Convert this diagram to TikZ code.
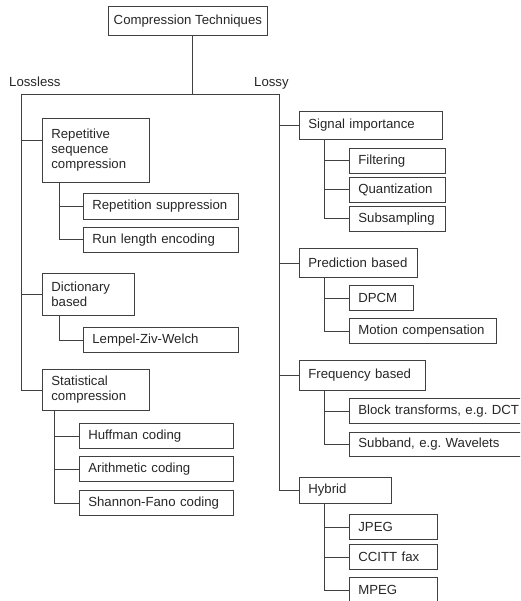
\documentclass[tikz,border=0pt]{standalone}
\usepackage{fontspec}
\setmainfont{Liberation Sans}
\tikzset{
  box/.style={draw=black!75, line width=0.7pt, anchor=north west, inner xsep=9pt,
    inner ysep=0pt, text width=#1, align=left},
  link/.style={draw=black!75, line width=0.7pt},
}
\begin{document}
\begin{tikzpicture}[x=1pt,y=-1pt,font=\fontsize{13.2}{15}\selectfont,text=black!85]
			\useasboundingbox (0,0) rectangle (520,601);
			\clip (0,0) rectangle (520,601);
			
			% Wurzel
			\node[draw=black!75, line width=0.7pt, anchor=north west, inner sep=0pt,
			  minimum width=159pt, minimum height=29pt] (top) at (108,6) {Compression Techniques};
			\coordinate (split) at (192,94);
			\coordinate (lft) at (21,94);
			\coordinate (rgt) at (279,94);
			\node[anchor=base west, inner sep=0pt] (lossless) at (9,87) {Lossless};
			\node[anchor=base west, inner sep=0pt] (lossy) at (254,87) {Lossy};
			
			% Verlustfrei
			\node[box=89pt, minimum height=64pt] (rep) at (42,118) {Repetitive\\sequence\\compression};
			\node[box=137pt, minimum height=26pt] (rsup) at (83,193) {Repetition suppression};
			\node[box=137pt, minimum height=25pt] (rle) at (83,227) {Run length encoding};
			\node[box=74pt, minimum height=42pt] (dict) at (42,273) {Dictionary\\based};
			\node[box=137pt, minimum height=25pt] (lzw) at (83,327) {Lempel-Ziv-Welch};
			\node[box=89pt, minimum height=41pt] (stat) at (42,369) {Statistical\\compression};
			\node[box=136pt, minimum height=25pt] (huff) at (79,423) {Huffman coding};
			\node[box=136pt, minimum height=25pt] (arith) at (79,456) {Arithmetic coding};
			\node[box=136pt, minimum height=25pt] (shan) at (79,490) {Shannon-Fano coding};
			
			% Verlustbehaftet
			\node[box=125pt, minimum height=28pt] (sig) at (299,111) {Signal importance};
			\node[box=78pt, minimum height=25pt] (filt) at (349,148) {Filtering};
			\node[box=78pt, minimum height=25pt] (quant) at (349,177) {Quantization};
			\node[box=78pt, minimum height=25pt] (subs) at (349,206) {Subsampling};
			\node[box=100pt, minimum height=29pt] (pred) at (299,248) {Prediction based};
			\node[box=46pt, minimum height=25pt] (dpcm) at (349,285) {DPCM};
			\node[box=129pt, minimum height=25pt] (motion) at (349,318) {Motion compensation};
			\node[box=108pt, minimum height=30pt] (freq) at (299,360) {Frequency based};
			\node[box=200pt, minimum height=25pt] (block) at (349,398) {Block transforms, e.g.\ DCT};
			\node[box=200pt, minimum height=24pt] (subb) at (349,432) {Subband, e.g.\ Wavelets};
			\node[box=74pt, minimum height=26pt] (hyb) at (299,477) {Hybrid};
			\node[box=70pt, minimum height=25pt] (jpeg) at (349,514) {JPEG};
			\node[box=70pt, minimum height=25pt] (ccitt) at (349,544) {CCITT fax};
			\node[box=70pt, minimum height=25pt] (mpeg) at (349,577) {MPEG};
			
			% Verbindungen
			\draw[link] (top.south -| split) -- (split);
			\draw[link] (lft) -- (rgt);
			\draw[link] (lft) |- ([yshift=10pt]rep.west);
			\draw[link] (lft) |- (dict.west);
			\draw[link] (lft) |- (stat.west);
			\draw[link] ([xshift=17pt]rep.south west) |- (rsup.west);
			\draw[link] ([xshift=17pt]rep.south west) |- (rle.west);
			\draw[link] ([xshift=17pt]dict.south west) |- (lzw.west);
			\draw[link] ([xshift=12pt]stat.south west) |- (huff.west);
			\draw[link] ([xshift=12pt]stat.south west) |- (arith.west);
			\draw[link] ([xshift=12pt]stat.south west) |- (shan.west);
			
			\draw[link] (rgt) |- (sig.west);
			\draw[link] (rgt) |- (pred.west);
			\draw[link] (rgt) |- (freq.west);
			\draw[link] (rgt) |- (hyb.west);
			\draw[link] ([xshift=25pt]sig.south west) |- (filt.west);
			\draw[link] ([xshift=25pt]sig.south west) |- (quant.west);
			\draw[link] ([xshift=25pt]sig.south west) |- (subs.west);
			\draw[link] ([xshift=25pt]pred.south west) |- (dpcm.west);
			\draw[link] ([xshift=25pt]pred.south west) |- (motion.west);
			\draw[link] ([xshift=25pt]freq.south west) |- (block.west);
			\draw[link] ([xshift=25pt]freq.south west) |- (subb.west);
			\draw[link] ([xshift=25pt]hyb.south west) |- (jpeg.west);
			\draw[link] ([xshift=25pt]hyb.south west) |- (ccitt.west);
			\draw[link] ([xshift=25pt]hyb.south west) |- (mpeg.west);
	\end{tikzpicture}
\end{document}
